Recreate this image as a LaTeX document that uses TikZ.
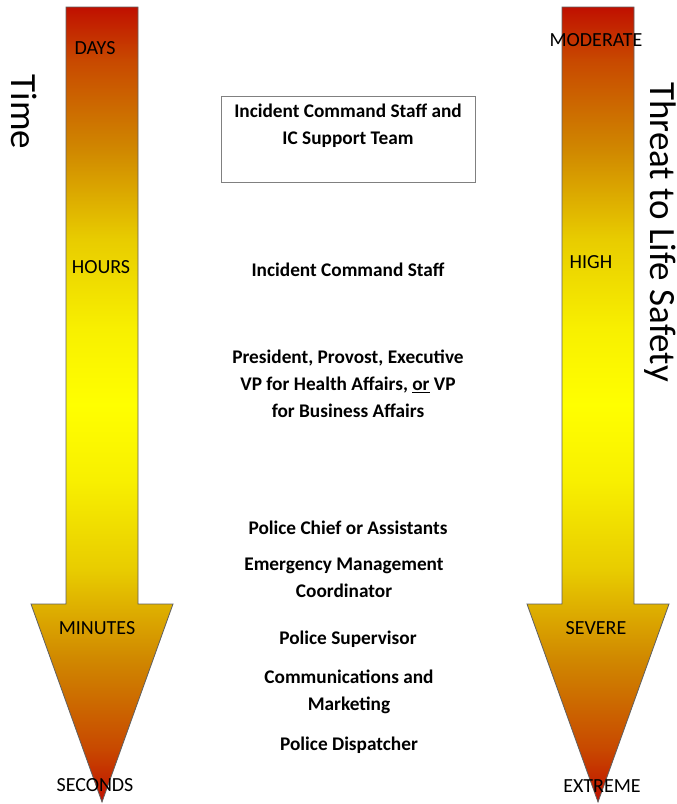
\documentclass[tikz,border=0pt]{standalone}
\usepackage{fontspec}
\setmainfont{Carlito}
\definecolor{arrowred}{RGB}{192,16,0}
\definecolor{grada}{RGB}{200,72,0}
\definecolor{gradb}{RGB}{208,136,0}
\definecolor{gradc}{RGB}{232,204,0}
\definecolor{gradd}{RGB}{248,240,0}
\definecolor{edgegray}{RGB}{96,96,96}
\pgfdeclareverticalshading{arrowshade}{100bp}{color(0bp)=(arrowred); color(25bp)=(arrowred);
  color(28.3bp)=(grada); color(34bp)=(gradb); color(39.6bp)=(gradc); color(45.3bp)=(gradd);
  color(50bp)=(yellow); color(54.7bp)=(gradd); color(60.4bp)=(gradc); color(66bp)=(gradb);
  color(71.7bp)=(grada); color(75bp)=(arrowred); color(100bp)=(arrowred)}

\begin{document}
\begin{tikzpicture}[x=1pt,y=-1pt,
  bigarrow/.style={draw=edgegray,line width=0.8pt,shade,shading=arrowshade},
  level/.style={font=\fontsize{20}{24}\selectfont},
  role/.style={font=\fontsize{19.3}{27}\selectfont\bfseries,align=center},
  axis/.style={font=\fontsize{37}{40}\selectfont,rotate=-90}]
\useasboundingbox (0,0) rectangle (677,804);
% the two arrows
\foreach \cx in {102,598}
  \draw[bigarrow] (\cx-36,7) -- (\cx+36,7) -- (\cx+36,604) -- (\cx+71,604)
     -- (\cx,802) -- (\cx-71,604) -- (\cx-36,604) -- cycle;
% axis titles
\node[axis] (time) at (24,112) {Time};
\node[axis] (threat) at (660,232) {Threat to Life Safety};
% time scale
\node[level] (days) at (95,48) {DAYS};
\node[level] (hours) at (101,267) {HOURS};
\node[level] (minutes) at (97,628) {MINUTES};
\node[level] (seconds) at (95,785) {SECONDS};
% threat scale
\node[level] (moderate) at (596,40) {MODERATE};
\node[level] (high) at (591,262) {HIGH};
\node[level] (severe) at (596,628) {SEVERE};
\node[level] (extreme) at (602,786) {EXTREME};
% who is in charge
\draw[draw=gray,line width=0.8pt] (221,96) rectangle (475,182);
\node[role] (icteam) at (348,126) {Incident Command Staff and\\IC Support Team};
\node[role] (icstaff) at (348,270) {Incident Command Staff};
\node[role] (exec) at (348,384) {President, Provost, Executive\\VP for Health Affairs, \underline{or} VP\\for Business Affairs};
\node[role] (chief) at (348,528) {Police Chief or Assistants};
\node[role] (emc) at (344,578) {Emergency Management\\Coordinator};
\node[role] (super) at (348,639) {Police Supervisor};
\node[role] (comms) at (349,692) {Communications and\\Marketing};
\node[role] (dispatch) at (349,745) {Police Dispatcher};
\end{tikzpicture}
\end{document}
